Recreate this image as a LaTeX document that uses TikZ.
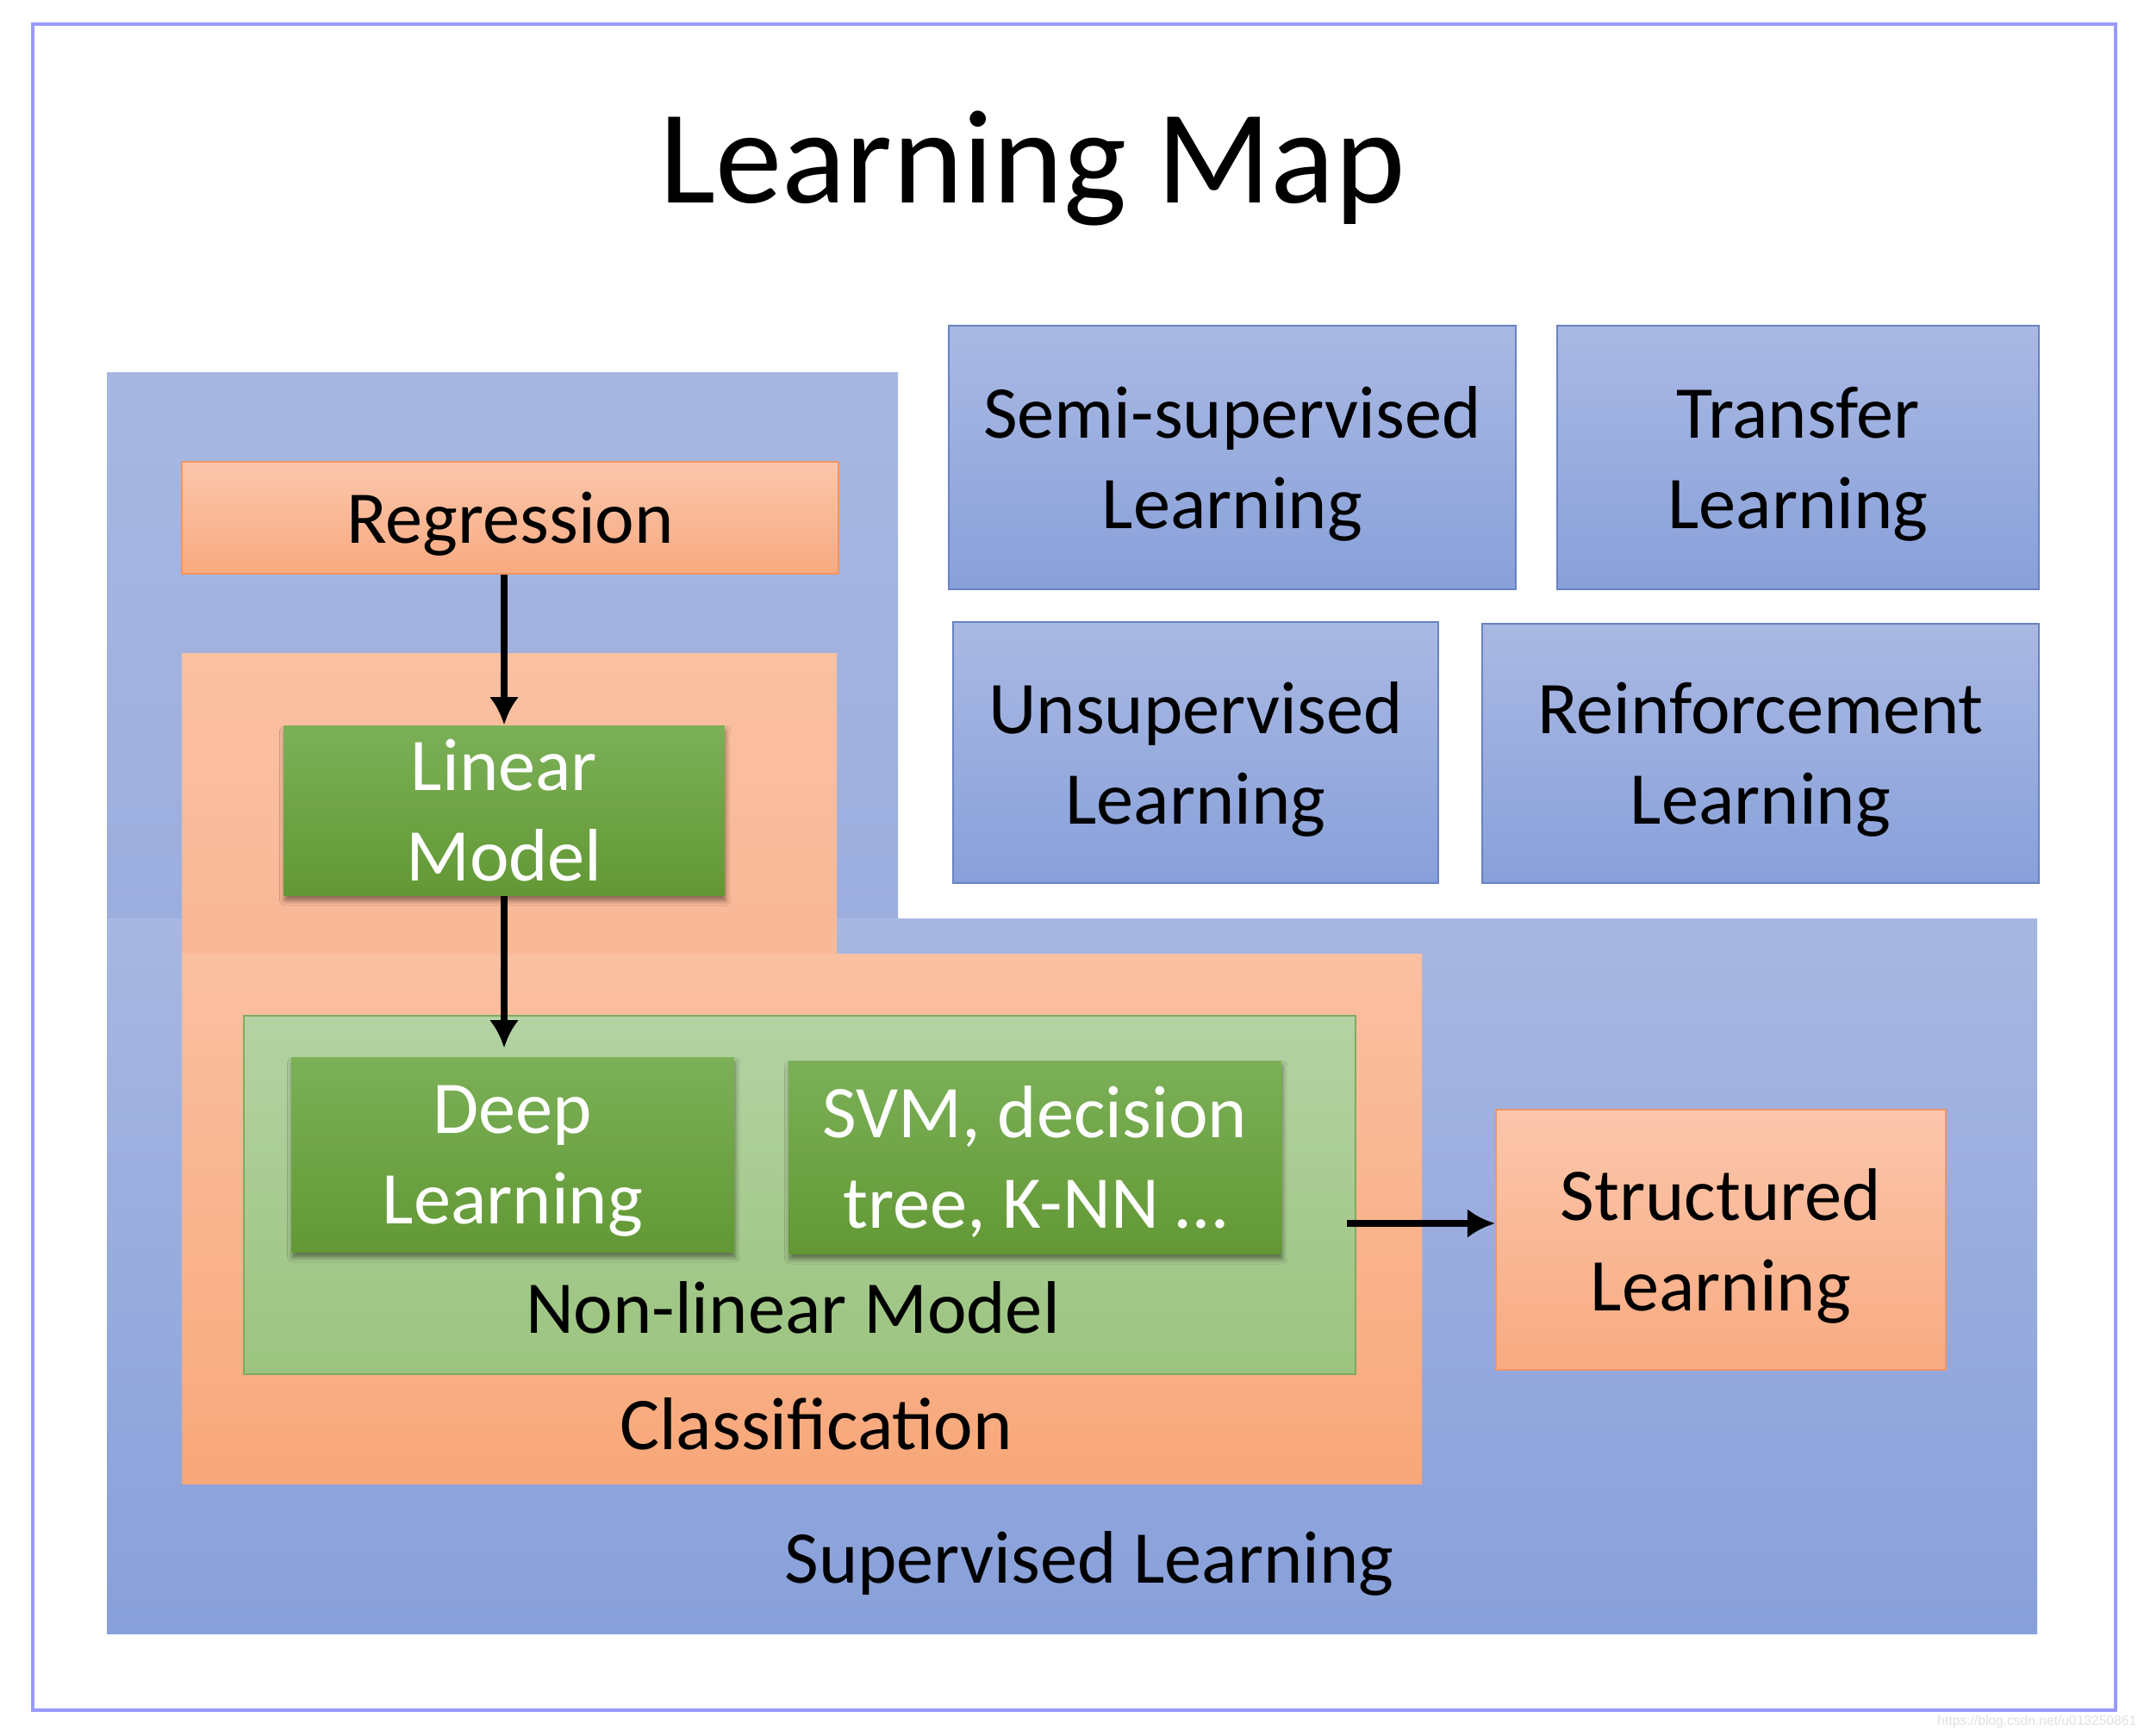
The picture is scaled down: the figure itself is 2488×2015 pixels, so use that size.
\documentclass[tikz,border=0pt]{standalone}
\usepackage{fontspec}
\setmainfont{Carlito}
\newfontfamily\wmfont{Liberation Sans}
\usepackage{tikz}
\usetikzlibrary{arrows.meta,shadows.blur}

\definecolor{framelav}{RGB}{153,153,255}
\definecolor{suptop}{RGB}{168,183,225}
\definecolor{supmid}{RGB}{156,174,222}
\definecolor{supbot}{RGB}{136,160,218}
\definecolor{clstop}{RGB}{250,192,162}
\definecolor{clsmid}{RGB}{249,184,150}
\definecolor{clsbot}{RGB}{248,168,122}
\definecolor{orgtop}{RGB}{251,198,172}
\definecolor{orgbot}{RGB}{248,170,128}
\definecolor{orgedge}{RGB}{238,150,100}
\definecolor{bluetop}{RGB}{170,185,227}
\definecolor{bluebot}{RGB}{136,160,218}
\definecolor{blueedge}{RGB}{105,130,195}
\definecolor{lgrtop}{RGB}{180,210,163}
\definecolor{lgrbot}{RGB}{156,196,128}
\definecolor{lgredge}{RGB}{125,172,95}
\definecolor{dgrtop}{RGB}{124,176,88}
\definecolor{dgrbot}{RGB}{98,152,52}

\newcommand\mapfont{\fontsize{21.6pt}{26.25pt}\selectfont}
\newcommand\titlefont{\fontsize{38.75pt}{46pt}\selectfont}

\tikzset{
  mapbox/.style={rectangle, inner sep=0pt, text depth=0pt, align=center, font=\mapfont},
  orangebox/.style={mapbox, draw=orgedge, line width=0.6pt, top color=orgtop, bottom color=orgbot},
  bluebox/.style={mapbox, draw=blueedge, line width=0.6pt, top color=bluetop, bottom color=bluebot},
  lgreenbox/.style={mapbox, draw=lgredge, line width=0.6pt, top color=lgrtop, bottom color=lgrbot},
  greenbox/.style={mapbox, text=white, top color=dgrtop, bottom color=dgrbot,
    blur shadow={shadow xshift=0.3pt, shadow yshift=-1.6pt, shadow blur radius=1.4pt, shadow opacity=45}},
  lbl/.style={anchor=base, inner sep=0pt, font=\mapfont},
  arr/.style={-{Latex[length=8pt,width=8.5pt]}, line width=1.8pt}
}

\begin{document}
\begin{tikzpicture}[x=0.25pt,y=0.25pt,yscale=-1,xscale=1]
\useasboundingbox (0,0) rectangle (2488,2015);
%Shape: Rectangle [frame]
\draw[framelav, line width=1pt] (38,28) rectangle (2455,1985);
% Text Node
\node[anchor=base, inner sep=0pt, font=\titlefont] (title) at (1198,235) {Learning Map};

%Shape: Supervised area, upper part
\fill[top color=suptop, bottom color=supmid] (124,432) rectangle (1042,1066);
%Shape: Supervised area, lower part
\fill[top color=suptop, bottom color=supbot] (124,1066) rectangle (2364,1896);
%Shape: Classification area, upper part
\fill[top color=clstop, bottom color=clsmid] (211,758) rectangle (971,1107);
%Shape: Classification area, lower part
\fill[top color=clstop, bottom color=clsbot] (211,1107) rectangle (1650,1722);

%Shape: Regression
\node[orangebox, minimum width=190.5pt, minimum height=32.5pt] (regr) at (592,601) {Regression};
%Shape: Non-linear model area
\node[lgreenbox, minimum width=322.5pt, minimum height=104pt] (nonlin) at (928,1387) {};
%Shape: green boxes
\node[greenbox, minimum width=128pt, minimum height=49.25pt] (linmod) at (585,940.5) {Linear\\Model};
\node[greenbox, minimum width=128.5pt, minimum height=56.5pt] (deep) at (595,1340) {Deep\\Learning};
\node[greenbox, minimum width=143pt, minimum height=56pt] (svm) at (1201,1343) {SVM, decision\\tree, K-NN …};
%Shape: Structured Learning
\node[orangebox, minimum width=130.5pt, minimum height=75.5pt] (struct) at (1997,1439) {Structured\\Learning};
%Shape: the other kinds of learning
\node[bluebox, minimum width=164.5pt, minimum height=76.5pt] (semi) at (1430,531) {Semi-supervised\\Learning};
\node[bluebox, minimum width=139.75pt, minimum height=76.5pt] (transfer) at (2086.5,531) {Transfer\\Learning};
\node[bluebox, minimum width=140.75pt, minimum height=75.75pt] (unsup) at (1387.5,873.5) {Unsupervised\\Learning};
\node[bluebox, minimum width=161.5pt, minimum height=75.25pt] (reinf) at (2043,874.5) {Reinforcement\\Learning};

% Text Node
\node[lbl] (nonlinlbl) at (920,1547) {Non-linear Model};
% Text Node
\node[lbl] (clslbl) at (947,1682) {Classification};
% Text Node
\node[lbl] (suplbl) at (1264,1837) {Supervised Learning};

%Straight Lines [arrows]
\draw[arr] (regr.south -| linmod) -- (linmod.north);
\draw[arr, shorten >=2.5pt] (linmod.south) -- (linmod.south |- deep.north);
\coordinate (nlout) at (1563,1420);
\draw[arr] (nlout) -- (nlout -| struct.west);

% Text Node
\node[anchor=base east, inner sep=0pt, font=\wmfont\fontsize{3.9pt}{4.5pt}\selectfont, text=black!12] (wmark) at (2480,2002) {https://blog.csdn.net/u013250861};
\end{tikzpicture}
\end{document}
